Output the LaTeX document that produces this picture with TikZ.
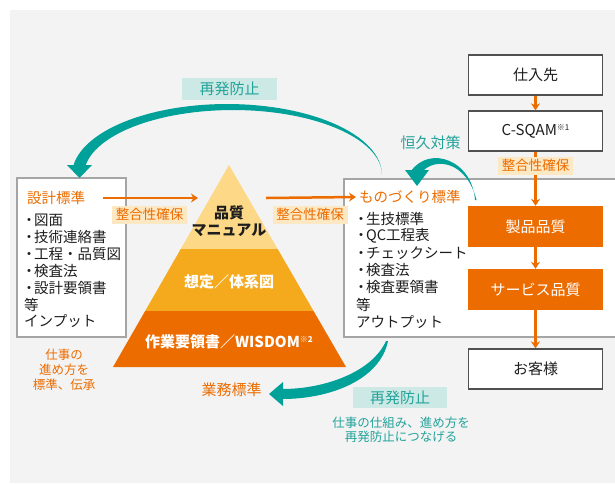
\documentclass[tikz,border=0pt]{standalone}
\usepackage{fontspec}
\setmainfont{Noto Sans CJK JP}
\usetikzlibrary{arrows.meta}
\definecolor{orng}{RGB}{236,108,0}
\definecolor{pyrA}{RGB}{253,216,134}
\definecolor{pyrB}{RGB}{245,170,30}
\definecolor{tealA}{RGB}{0,161,153}
\definecolor{tealtxt}{RGB}{35,163,154}
\definecolor{tealbg}{RGB}{205,233,229}
\definecolor{peach}{RGB}{253,232,196}
\definecolor{panel}{RGB}{243,243,243}
\definecolor{lbord}{RGB}{165,165,165}
\definecolor{dbord}{RGB}{80,80,80}
\definecolor{ink}{RGB}{30,30,30}
\newcommand\bu{\makebox[10pt][c]{・}}
\begin{document}
\begin{tikzpicture}[x=1pt,y=-1pt,
  wbox/.style={draw=dbord, line width=1.3pt, fill=white, minimum width=134pt, minimum height=40pt, inner sep=0pt, text=ink, font=\fontsize{15}{18}\selectfont},
  obox/.style={fill=orng, minimum width=135pt, minimum height=41pt, inner sep=0pt, text=white, font=\fontsize{15}{18}\selectfont},
  lbox/.style={draw=lbord, line width=1.3pt, fill=white, inner sep=0pt},
  oarrow/.style={draw=orng, line width=2.5pt, -{Stealth[length=7pt,width=9pt]}},
  peachlbl/.style={fill=peach, text=orng, minimum width=75pt, minimum height=18pt, inner sep=0pt, font=\fontsize{13.5}{16}\selectfont},
  teallbl/.style={fill=tealbg, text=tealtxt, minimum width=95pt, minimum height=22pt, inner sep=0pt, font=\fontsize{15}{18}\selectfont},
  listline/.style={anchor=west, inner sep=0pt, text=ink, font=\fontsize{14.5}{17}\selectfont},
  ttl/.style={anchor=west, inner sep=0pt, text=orng, font=\fontsize{14.5}{17}\selectfont},
  pyrtxt/.style={inner sep=0pt, align=center, font=\fontsize{15}{17}\selectfont\bfseries}
]
\useasboundingbox (0,0) rectangle (615,483);
\fill[panel] (10,10) rectangle (615,483);

% right column boxes
\node[wbox] (sup) at (535.5,75) {仕入先};
\node[wbox] (csqam) at (535.5,131) {C-SQAM\raisebox{5pt}{\fontsize{8}{8}\selectfont ※1}};

% input box
\node[lbox, minimum width=109pt, minimum height=159pt] (inbox) at (71.5,257.5) {};
\node[ttl] (intitle) at (27,198) {設計標準};
\foreach \t [count=\i from 0] in {\bu 図面,\bu 技術連絡書,\bu 工程・品質図,\bu 検査法,\bu 設計要領書,等,インプット}
  \node[listline] (in\i) at (24,{220+16.9*\i}) {\t};

% output box (extends past right edge)
\node[lbox, minimum width=276pt, minimum height=158pt] (outbox) at (482,258) {};
\node[ttl] (outtitle) at (359,197) {ものづくり標準};
\foreach \t [count=\i from 0] in {\bu 生技標準,\bu QC工程表,\bu チェックシート,\bu 検査法,\bu 検査要領書,等,アウトプット}
  \node[listline] (out\i) at (356,{219+17.1*\i}) {\t};

\node[obox] (seihin) at (535.5,226.5) {製品品質};
\node[obox] (service) at (535.5,289.5) {サービス品質};
\node[wbox] (kyaku) at (535.5,369) {お客様};

% pyramid
\begin{scope}
  \clip (229,165) -- (346,367) -- (113,367) -- cycle;
  \fill[pyrA] (100,160) rectangle (360,249);
  \fill[pyrB] (100,249) rectangle (360,311);
  \fill[orng] (100,311) rectangle (360,370);
\end{scope}
\node[pyrtxt, text=ink] (pq) at (229,221.5) {品質\\マニュアル};
\node[pyrtxt, text=white] (pm) at (229,282) {想定／体系図};
\node[pyrtxt, text=white] (pb) at (229,342) {作業要領書／WISDOM\raisebox{5pt}{\fontsize{8}{8}\selectfont ※2}};

% orange arrows
\coordinate (pyrL) at (198,198);
\coordinate (pyrR) at (266,198);
\draw[oarrow] ([xshift=18pt]intitle.east) -- (pyrL);
\draw[oarrow] (pyrR) -- ([xshift=-3pt]outtitle.west);
\draw[oarrow] (sup.south) -- (csqam.north);
\draw[oarrow] (csqam.south) -- (seihin.north);
\draw[oarrow] (seihin.south) -- (service.north);
\draw[oarrow] (service.south) -- (kyaku.north);
\node[peachlbl] (lbl1) at (149.5,214.5) {整合性確保};
\node[peachlbl] (lbl2) at (310,214.5) {整合性確保};
\node[peachlbl] (lbl3) at (535.5,165.5) {整合性確保};

% teal arcs
\fill[tealA] plot[domain=0:172, samples=60] ({227+155*cos(\x)},{175-71*sin(\x)})
  -- plot[domain=172:0, samples=60] ({233+149*cos(\x)},{175-65*sin(\x)}) -- cycle;
\fill[tealA] (67,165) -- (92,165) -- (79.5,178) -- cycle;

\fill[tealA] (475,200) .. controls (472,160) and (430,145) .. (411,171)
  -- (423,171) .. controls (435,158) and (466,160) .. (476.5,200) -- cycle;
\fill[tealA] (405,170) -- (429,170) -- (417,186) -- cycle;

\fill[tealA] (388,341) .. controls (380,380) and (330,399) .. (282,399)
  -- (282,389) .. controls (325,389) and (372,372) .. (386,341) -- cycle;
\fill[tealA] (283,382) -- (283,406) -- (269,394) -- cycle;

% teal labels
\node[teallbl] (saihatsu1) at (229.5,89) {再発防止};
\node[inner sep=0pt, text=tealtxt, font=\fontsize{15}{18}\selectfont] (koukyu) at (430.5,143) {恒久対策};
\node[teallbl, minimum width=94pt, minimum height=21pt] (saihatsu2) at (400,397.5) {再発防止};
\node[inner sep=0pt, align=center, text=tealtxt, font=\fontsize{12.5}{14.5}\selectfont] (shikumi) at (401,430) {仕事の仕組み、進め方を\\再発防止につなげる};

% orange notes
\node[inner sep=0pt, text=orng, font=\fontsize{15}{18}\selectfont] (gyomu) at (231.5,390) {業務標準};
\node[inner sep=0pt, align=center, text=orng, font=\fontsize{12.5}{15}\selectfont] (shigoto) at (64,370) {仕事の\\進め方を\\標準、伝承};
\end{tikzpicture}
\end{document}
